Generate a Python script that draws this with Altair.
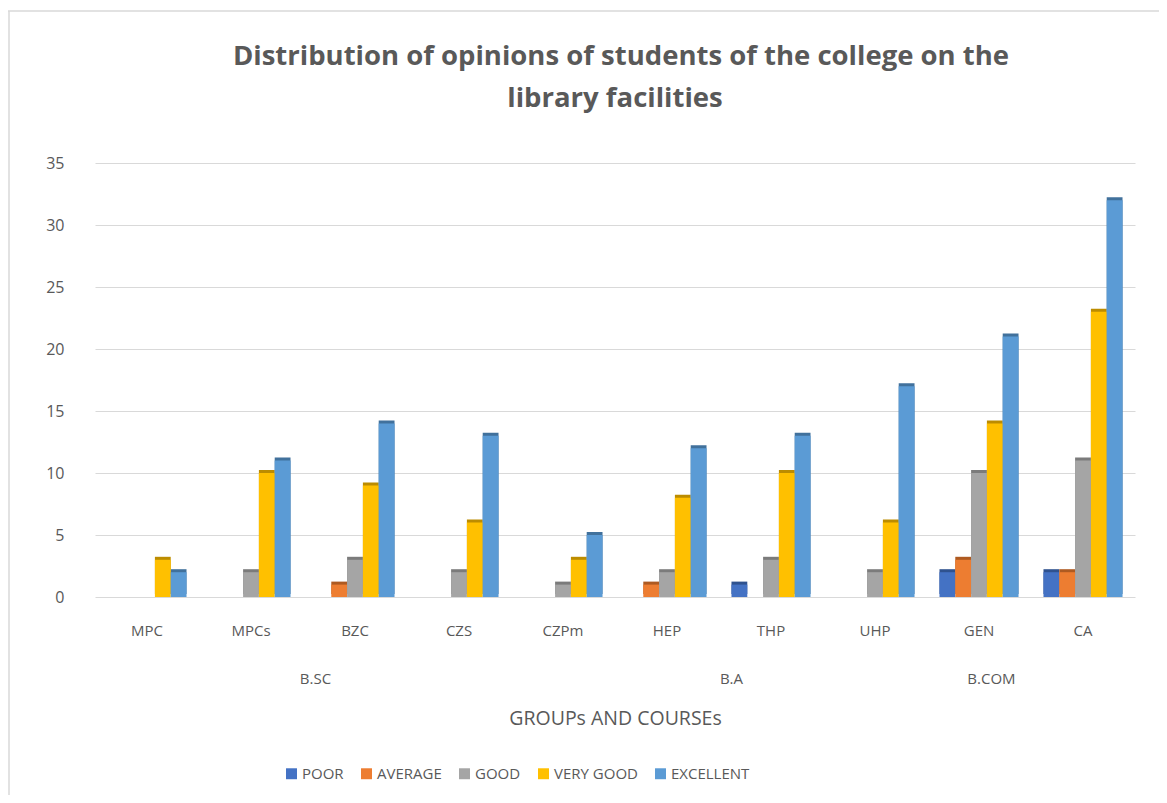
import altair as alt
import pandas as pd

courses = ["MPC", "MPCs", "BZC", "CZS", "CZPm", "HEP", "THP", "UHP", "GEN", "CA"]
series = ["POOR", "AVERAGE", "GOOD", "VERY GOOD", "EXCELLENT"]
poor = [0, 0, 0, 0, 0, 0, 1, 0, 2, 2]
average = [0, 0, 1, 0, 0, 1, 0, 0, 3, 2]
good = [0, 2, 3, 2, 1, 2, 3, 2, 10, 11]
very_good = [3, 10, 9, 6, 3, 8, 10, 6, 14, 23]
excellent = [2, 11, 14, 13, 5, 12, 13, 17, 21, 32]
groups = ["B.SC", "B.A", "B.COM"]
group_anchor = ["BZC", "THP", "GEN"]
group_shift = [0, 0, 52]
title_lines = ["Distribution of opinions of students of the college on the", "library facilities"]

colors = ["#4472C4", "#ED7D31", "#A5A5A5", "#FFC000", "#5B9BD5"]
dark_colors = ["#2F528F", "#AE5A21", "#7B7B7B", "#BC8C00", "#41719C"]

rows = []
for s, vals in zip(series, [poor, average, good, very_good, excellent]):
    for c, v in zip(courses, vals):
        rows.append({"course": c, "series": s, "value": v})
df = pd.DataFrame(rows)
gdf = pd.DataFrame({"group": groups, "course": group_anchor, "shift": group_shift})
one = pd.DataFrame({"k": [0]})

W, H = 1040, 434
FONT = "Open Sans"
GRAY = "#595959"
FS = 15

x_enc = alt.X("course:N", sort=courses,
              scale=alt.Scale(paddingInner=0.24, paddingOuter=0.12),
              axis=alt.Axis(title="GROUPs AND COURSEs", labelAngle=0, domain=False,
                            ticks=False, labelFontSize=FS, labelColor=GRAY,
                            labelPadding=26, labelFont=FONT, titleFont=FONT,
                            titleFontSize=19.5, titleFontWeight="normal",
                            titleColor=GRAY, titlePadding=71))
xo = alt.XOffset("series:N", sort=series, scale=alt.Scale(paddingInner=0.0))
y_enc = alt.Y("value:Q", scale=alt.Scale(domain=[0, 35]),
              axis=alt.Axis(values=[0, 5, 10, 15, 20, 25, 30, 35], title=None,
                            domain=False, ticks=False, gridColor="#d9d9d9",
                            labelFontSize=16, labelColor=GRAY, labelFont=FONT,
                            labelPadding=31))

shadow = alt.Chart(df).mark_bar(xOffset=3, yOffset=-3).encode(
    x=x_enc, xOffset=xo, y=y_enc,
    color=alt.Color("series:N", sort=series,
                    scale=alt.Scale(domain=series, range=dark_colors), legend=None),
)

bars = alt.Chart(df).mark_bar().encode(
    x=x_enc, xOffset=xo, y=y_enc,
    color=alt.Color("series:N", sort=series,
                    scale=alt.Scale(domain=series, range=colors),
                    legend=alt.Legend(title=None, orient="none", direction="horizontal",
                                      legendX=189, legendY=603, symbolType="square",
                                      symbolSize=120, labelFontSize=FS,
                                      labelColor=GRAY, labelFont=FONT,
                                      columnPadding=15, labelOffset=3)),
)

glabels = alt.Chart(gdf).mark_text(fontSize=FS, color=GRAY, font=FONT, baseline="middle").encode(
    x=alt.X("course:N", sort=courses),
    xOffset=alt.XOffset("shift:Q", scale=None),
    y=alt.value(H + 82),
    text="group:N",
)

title1 = alt.Chart(one).mark_text(fontSize=27.5, font=FONT, fontWeight="bold", color=GRAY,
                                  baseline="middle", align="center").encode(
    x=alt.value(W / 2 + 6), y=alt.value(-106), text=alt.value(title_lines[0]))
title2 = alt.Chart(one).mark_text(fontSize=27.5, font=FONT, fontWeight="bold", color=GRAY,
                                  baseline="middle", align="center").encode(
    x=alt.value(W / 2 + 0), y=alt.value(-64), text=alt.value(title_lines[1]))

border_top = alt.Chart(one).mark_rule(color="#d9d9d9", strokeWidth=1.5).encode(
    x=alt.value(-87), x2=alt.value(W + 40), y=alt.value(-152))
border_left = alt.Chart(one).mark_rule(color="#d9d9d9", strokeWidth=1.5).encode(
    x=alt.value(-86), y=alt.value(-152), y2=alt.value(H + 220))

chart = alt.layer(border_top, border_left, shadow, bars, glabels, title1, title2).resolve_scale(
    color="independent").properties(
    width=W, height=H,
    autosize=alt.AutoSizeParams(type="none"),
    padding={"left": 87, "top": 155, "right": 24, "bottom": 198},
).configure_view(stroke=None)

chart.save("out.html", embed_options={"renderer": "svg", "actions": False})
